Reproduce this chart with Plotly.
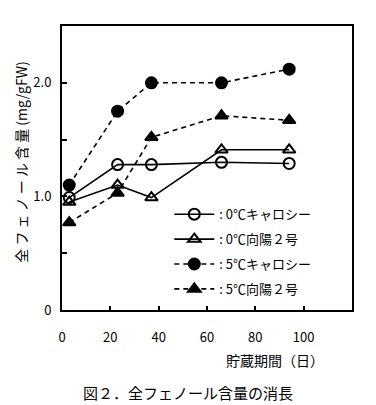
import plotly.graph_objects as go

days = [3, 23, 37, 66, 94]
c0_carosie = [0.99, 1.28, 1.28, 1.30, 1.29]
c0_koyo2 = [0.95, 1.10, 0.99, 1.41, 1.41]
c5_carosie = [1.10, 1.75, 2.00, 2.00, 2.12]
c5_koyo2 = [0.77, 1.03, 1.52, 1.71, 1.67]

series_names = [": 0℃キャロシー", ": 0℃向陽２号", ": 5℃キャロシー", ": 5℃向陽２号"]
x_ticks = [0, 20, 40, 60, 80, 100]
y_ticks = [0, 0.5, 1.0, 1.5, 2.0]
y_tick_text = ["0", "", "1.0", "", "2.0"]

FONT = "Noto Sans CJK JP"

fig = go.Figure()
styles = [
    (c0_carosie, "circle-open", "solid"),
    (c0_koyo2, "triangle-up-open", "solid"),
    (c5_carosie, "circle", "5px,4px"),
    (c5_koyo2, "triangle-up", "5px,4px"),
]
for i, (vals, sym, dash) in enumerate(styles):
    fig.add_trace(go.Scatter(
        x=days, y=vals, mode="lines+markers", name=series_names[i],
        legendgroup=str(i),
        line=dict(color="black", width=1.6, dash=dash),
        marker=dict(symbol=sym, size=11, color="black",
                    line=dict(color="black", width=2)),
    ))

fig.update_layout(
    width=368, height=397,
    margin=dict(l=54, r=24, t=18, b=95),
    paper_bgcolor="white", plot_bgcolor="white",
    font=dict(family=FONT, color="black", size=12),
    showlegend=True,
    legend=dict(x=0.37, y=0.39, xanchor="left", yanchor="top",
                bgcolor="rgba(0,0,0,0)", font=dict(size=13, family=FONT),
                tracegroupgap=5, itemwidth=40),
)
fig.update_xaxes(
    range=[0, 120], tickvals=x_ticks, ticktext=[str(v) for v in x_ticks],
    ticks="inside", ticklen=4, tickwidth=1.5, tickcolor="black",
    showline=True, linecolor="black", linewidth=2, mirror=True,
    showgrid=False, zeroline=False, ticklabelstandoff=14,
    tickfont=dict(size=13, family=FONT),
)
fig.update_yaxes(
    range=[0, 2.5], tickvals=y_ticks, ticktext=y_tick_text,
    ticks="inside", ticklen=5, tickwidth=1.5, tickcolor="black",
    showline=True, linecolor="black", linewidth=2, mirror=True,
    showgrid=False, zeroline=False, ticklabelstandoff=6,
    tickfont=dict(size=13, family=FONT),
)
fig.add_annotation(text="全 フ ェ ノ ー ル 含 量 (mg/gFW)", xref="paper", yref="paper",
                   x=-0.14, y=0.52, textangle=-90, showarrow=False,
                   font=dict(size=14, family=FONT), xanchor="center", yanchor="middle")
fig.add_annotation(text="貯蔵期間（日）", xref="paper", yref="paper",
                   x=0.91, y=-0.175, showarrow=False, xanchor="right", yanchor="middle",
                   font=dict(size=14, family=FONT))
fig.add_annotation(text="図２．全フェノール含量の消長", xref="paper", yref="paper",
                   x=0.434, y=-0.29, showarrow=False, xanchor="center", yanchor="middle",
                   font=dict(size=15, family=FONT))

fig.write_html("out.html")
